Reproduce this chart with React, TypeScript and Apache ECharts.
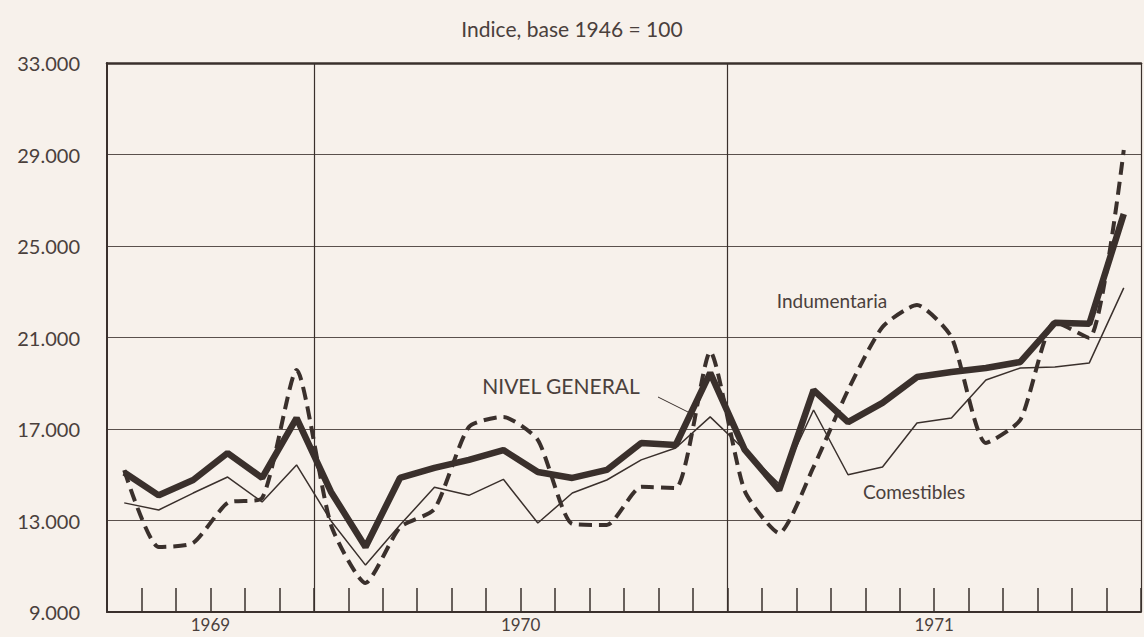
import React, { useEffect, useRef } from 'react';
import * as echarts from 'echarts';

const months = [
  'Jul 1969', 'Ago 1969', 'Sep 1969', 'Oct 1969', 'Nov 1969', 'Dic 1969',
  'Ene 1970', 'Feb 1970', 'Mar 1970', 'Abr 1970', 'May 1970', 'Jun 1970',
  'Jul 1970', 'Ago 1970', 'Sep 1970', 'Oct 1970', 'Nov 1970', 'Dic 1970',
  'Ene 1971', 'Feb 1971', 'Mar 1971', 'Abr 1971', 'May 1971', 'Jun 1971',
  'Jul 1971', 'Ago 1971', 'Sep 1971', 'Oct 1971', 'Nov 1971', 'Dic 1971',
];
const yearLabels = ['1969', '1970', '1971'];
const yearLabelAt = [3, 12, 24];
const yearStartIndex = [6, 18];

const nivelGeneral = [
  15100, 14100, 14770, 15950, 14860, 17480,
  14250, 11840, 14860, 15300, 15650, 16080,
  15120, 14860, 15210, 16390, 16300, 19450,
  16100, 14330, 18700, 17300, 18140, 19270,
  19490, 19670, 19930, 21640, 21600, 26400,
];
const comestibles = [
  13770, 13460, 14200, 14900, 13810, 15430,
  12980, 11050, 12800, 14450, 14100, 14800,
  12890, 14200, 14770, 15650, 16170, 17530,
  16080, 14600, 17830, 15000, 15340, 17260,
  17480, 19140, 19670, 19710, 19890, 23170,
];
const indumentaria = [
  15200, 11840, 12020, 13770, 13980, 19580,
  12800, 10270, 12700, 13500, 17090, 17530,
  16520, 12850, 12800, 14470, 14420, 20370,
  14300, 12450, 15340, 18700, 21460, 22420,
  21020, 16390, 17400, 21680, 20980, 29200,
];
const yTicks = { min: 9000, max: 33000, step: 4000 };

const INK = '#3a302c';
const TEXT = '#4a403c';
const BG = '#f7f1eb';
const FONT = 'Lato, "DejaVu Sans", sans-serif';

export default function App() {
  const ref = useRef<HTMLDivElement>(null);
  useEffect(() => {
    if (!ref.current) return;
    const chart = echarts.init(ref.current, null, { renderer: 'svg' });
    chart.setOption({
      animation: false,
      backgroundColor: BG,
      textStyle: { fontFamily: FONT },
      grid: { left: 107, right: 0, top: 63, bottom: 25 },
      xAxis: [
        {
          type: 'category',
          data: months,
          boundaryGap: true,
          axisLine: { lineStyle: { color: INK, width: 2 } },
          axisTick: { show: false },
          axisLabel: { show: false },
          splitLine: {
            show: true,
            interval: (i: number) => yearStartIndex.includes(i),
            lineStyle: { color: INK, width: 1.2 },
          },
        },
        {
          type: 'value',
          min: 0,
          max: months.length,
          interval: 1,
          position: 'bottom',
          axisLine: { show: false },
          axisTick: { show: true, inside: true, length: 24, lineStyle: { color: INK, width: 1.5 } },
          splitLine: { show: false },
          axisLabel: {
            margin: 3,
            fontSize: 17,
            lineHeight: 18,
            color: TEXT,
            fontFamily: FONT,
            formatter: (v: number) => {
              const k = yearLabelAt.indexOf(v);
              return k >= 0 ? yearLabels[k] : '';
            },
          },
        },
        {
          type: 'category',
          data: months,
          position: 'top',
          axisLine: { lineStyle: { color: INK, width: 2.5 } },
          axisTick: { show: false },
          axisLabel: { show: false },
        },
      ],
      yAxis: {
        type: 'value',
        min: yTicks.min,
        max: yTicks.max,
        interval: yTicks.step,
        axisLine: { show: true, lineStyle: { color: INK, width: 2 } },
        axisTick: { show: false },
        axisLabel: {
          margin: 27,
          fontSize: 20,
          color: TEXT,
          fontFamily: FONT,
          formatter: (v: number) => `${v / 1000}.000`,
        },
        splitLine: { lineStyle: { color: '#5a504c', width: 1 } },
      },
      series: [
        {
          name: 'Comestibles',
          type: 'line',
          data: comestibles,
          symbol: 'none',
          lineStyle: { color: INK, width: 1.5 },
          z: 3,
        },
        {
          name: 'Indumentaria',
          type: 'line',
          data: indumentaria,
          symbol: 'none',
          smooth: 0.2,
          lineStyle: { color: INK, width: 4, type: [13, 7] },
          z: 4,
        },
        {
          name: 'Nivel general',
          type: 'line',
          data: nivelGeneral,
          symbol: 'none',
          lineStyle: { color: INK, width: 6.5 },
          z: 5,
        },
      ],
      graphic: [
        {
          type: 'text',
          left: 'center',
          top: 18,
          style: { text: 'Indice, base 1946 = 100', fontSize: 21, fill: TEXT, fontFamily: FONT },
        },
        {
          type: 'text',
          x: 561,
          y: 385,
          style: { text: 'NIVEL GENERAL', fontSize: 21, fill: TEXT, fontFamily: FONT, align: 'center', verticalAlign: 'middle' },
        },
        {
          type: 'line',
          shape: { x1: 658, y1: 397, x2: 690, y2: 413 },
          style: { stroke: INK, lineWidth: 1 },
        },
        {
          type: 'text',
          x: 832,
          y: 300,
          style: { text: 'Indumentaria', fontSize: 19, fill: TEXT, fontFamily: FONT, align: 'center', verticalAlign: 'middle' },
        },
        {
          type: 'text',
          x: 914,
          y: 491,
          style: { text: 'Comestibles', fontSize: 19, fill: TEXT, fontFamily: FONT, align: 'center', verticalAlign: 'middle' },
        },
      ],
    });
    return () => chart.dispose();
  }, []);
  return (
    <div
      ref={ref}
      style={{ position: 'fixed', left: 0, top: 0, width: 1144, height: 637 }}
    />
  );
}
